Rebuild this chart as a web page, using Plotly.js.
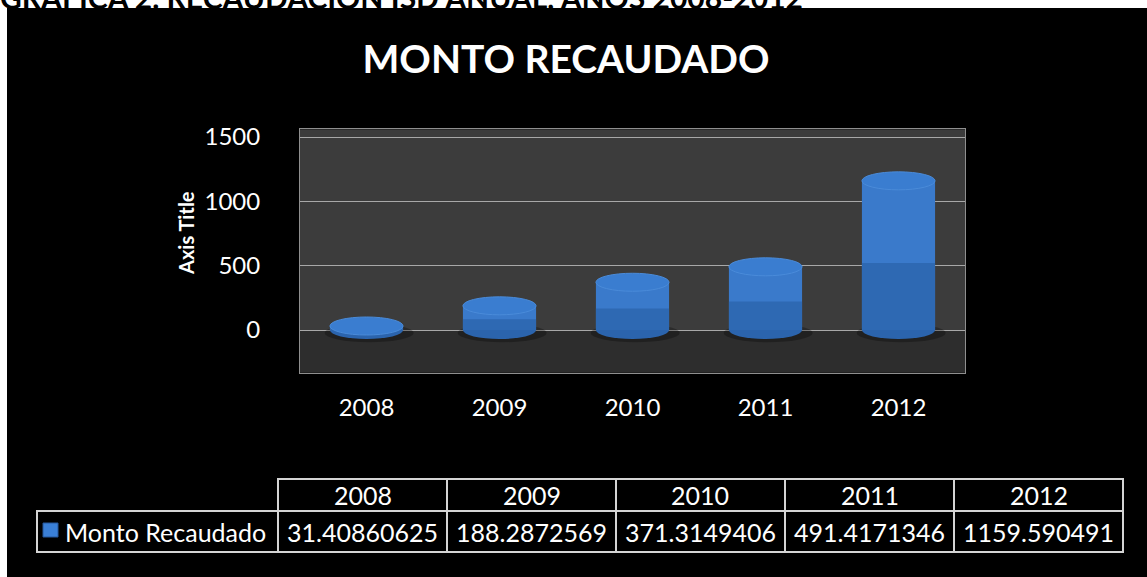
<!DOCTYPE html>
<html>
<head>
<meta charset="utf-8">
<script src="https://cdn.plot.ly/plotly-3.0.1.min.js"></script>
<style>
  html, body { margin:0; padding:0; background:#ffffff; width:1147px; height:577px; overflow:hidden; }
  #head { position:absolute; left:0; top:0; width:1147px; height:8px; overflow:hidden; }
  #head div { position:absolute; left:0; bottom:-4px; font-family:Lato, "Open Sans", sans-serif; font-weight:bold; font-size:30px; line-height:30px; white-space:nowrap; color:#000; }
  #chart { position:absolute; left:7px; top:8px; width:1140px; height:569px; }
</style>
</head>
<body>
<div id="head"><div>GRÁFICA 2. RECAUDACIÓN ISD ANUAL, AÑOS 2008-2012</div></div>
<div id="chart"></div>
<script>
// ---- data ----
const chartTitle = 'MONTO RECAUDADO';
const axisTitle = 'Axis Title';
const seriesName = 'Monto Recaudado';
const years = ['2008', '2009', '2010', '2011', '2012'];
const values = [31.40860625, 188.2872569, 371.3149406, 491.4171346, 1159.590491];
const valueLabels = ['31.40860625', '188.2872569', '371.3149406', '491.4171346', '1159.590491'];
const yTickVals = [0, 500, 1000, 1500];
const yTickText = ['0', '500', '1000', '1500'];

// ---- styling ----
const W = 1140, H = 569, OX = 7, OY = 8;   // chart div size and its offset in the page
const FONT = 'Lato, "Open Sans", sans-serif';
const barHalf = 0.275;      // half bar width in category units
const capHalf = 70;         // half height of the cylinder caps in y units
const yRange = [-330, 1560];
function px(X) { return (X - OX) / W; }       // page x -> paper x
function py(Y) { return 1 - (Y - OY) / H; }   // page y -> paper y

const shapes = [];
const annotations = [];

// floor band below zero
shapes.push({type:'rect', xref:'x domain', yref:'y', x0:0, x1:1, y0:yRange[0], y1:0,
  fillcolor:'#2d2d2d', line:{width:0}, layer:'below'});

values.forEach(function(v, i) {
  shapes.push({type:'circle', xref:'x', yref:'y', x0:i - barHalf - 0.04, x1:i + barHalf + 0.08,
    y0:-capHalf - 25, y1:capHalf - 20, fillcolor:'rgba(0,0,0,0.28)', line:{width:0}, layer:'between'});
  shapes.push({type:'circle', xref:'x', yref:'y', x0:i - barHalf, x1:i + barHalf,
    y0:-capHalf, y1:capHalf, fillcolor:'#2b64ad', line:{width:0}, layer:'above'});
  shapes.push({type:'rect', xref:'x', yref:'y', x0:i - barHalf, x1:i + barHalf,
    y0:0, y1:v * 0.45, fillcolor:'#2e69b3', line:{width:0}, layer:'above'});
  shapes.push({type:'circle', xref:'x', yref:'y', x0:i - barHalf, x1:i + barHalf,
    y0:v - capHalf, y1:v + capHalf, fillcolor:'#3a7dd0', line:{color:'#4a8bd9', width:1}, layer:'above'});
});

// ---- data table (grid drawn in paper space) ----
const colEdges = [37, 278, 447, 616, 785, 954, 1123];
const headTop = 479, rowSep = 511, rowBottom = 552;
const gridLine = {color:'#d4d4d4', width:2};
for (let j = 0; j < 6; j++) {
  if (j > 0) {
    shapes.push({type:'rect', xref:'paper', yref:'paper', x0:px(colEdges[j]), x1:px(colEdges[j + 1]),
      y0:py(rowSep), y1:py(headTop), line:gridLine, fillcolor:'rgba(0,0,0,0)', layer:'above'});
    annotations.push({text:years[j - 1], xref:'paper', yref:'paper',
      x:px((colEdges[j] + colEdges[j + 1]) / 2), y:py((headTop + rowSep) / 2),
      xanchor:'center', yanchor:'middle', showarrow:false,
      font:{family:FONT, size:25, color:'#ffffff'}});
  }
  shapes.push({type:'rect', xref:'paper', yref:'paper', x0:px(colEdges[j]), x1:px(colEdges[j + 1]),
    y0:py(rowBottom), y1:py(rowSep), line:gridLine, fillcolor:'rgba(0,0,0,0)', layer:'above'});
  if (j > 0) {
    annotations.push({text:valueLabels[j - 1], xref:'paper', yref:'paper',
      x:px((colEdges[j] + colEdges[j + 1]) / 2), y:py((rowSep + rowBottom) / 2),
      xanchor:'center', yanchor:'middle', showarrow:false,
      font:{family:FONT, size:25, color:'#ffffff'}});
  }
}
// row label with legend key
annotations.push({text:seriesName, xref:'paper', yref:'paper',
  x:px(colEdges[1] - 10), y:py((rowSep + rowBottom) / 2), xanchor:'right', yanchor:'middle',
  showarrow:false, font:{family:FONT, size:25, color:'#ffffff'}});
shapes.push({type:'rect', xref:'paper', yref:'paper',
  x0:px(43), x1:px(58), y0:py(537), y1:py(523),
  fillcolor:'#3a7fd6', line:{color:'#25579a', width:1}, layer:'above'});

// axis title
annotations.push({text:axisTitle, xref:'paper', yref:'paper', x:px(186), y:py(233),
  xanchor:'center', yanchor:'middle', textangle:-90, showarrow:false,
  font:{family:FONT, size:20, color:'#ffffff', weight:'bold'}});

const traces = [
  {
    type:'bar', x:years, y:values, name:seriesName, width:barHalf * 2,
    marker:{color:'#3a7acb', line:{width:0}}, hoverinfo:'x+y', showlegend:false
  }
];

const layout = {
  width:W, height:H,
  margin:{l:0, r:0, t:0, b:0},
  paper_bgcolor:'#000000',
  plot_bgcolor:'#3c3c3c',
  font:{family:FONT, color:'#ffffff'},
  showlegend:false,
  title:{text:chartTitle, x:px(566), xanchor:'center', xref:'container', y:py(59), yanchor:'middle', yref:'container',
    font:{family:FONT, size:39, color:'#ffffff', weight:'bold'}},
  xaxis:{
    domain:[px(300), px(965)],
    type:'category',
    tickfont:{family:FONT, size:24, color:'#ffffff'},
    ticks:'', ticklabelstandoff:14,
    showgrid:false, zeroline:false,
    showline:true, mirror:true, linecolor:'#8f8f8f', linewidth:1,
    fixedrange:true
  },
  yaxis:{
    domain:[py(372.5), py(129.3)],
    range:yRange,
    tickvals:yTickVals, ticktext:yTickText,
    tickfont:{family:FONT, size:24, color:'#ffffff'},
    ticks:'', ticklabelstandoff:34,
    showgrid:true, gridcolor:'#a8a8a8', gridwidth:1,
    zeroline:false,
    showline:true, mirror:true, linecolor:'#8f8f8f', linewidth:1,
    fixedrange:true
  },
  annotations:annotations,
  shapes:shapes
};

Plotly.newPlot('chart', traces, layout, {displayModeBar:false, staticPlot:true});
</script>
</body>
</html>
